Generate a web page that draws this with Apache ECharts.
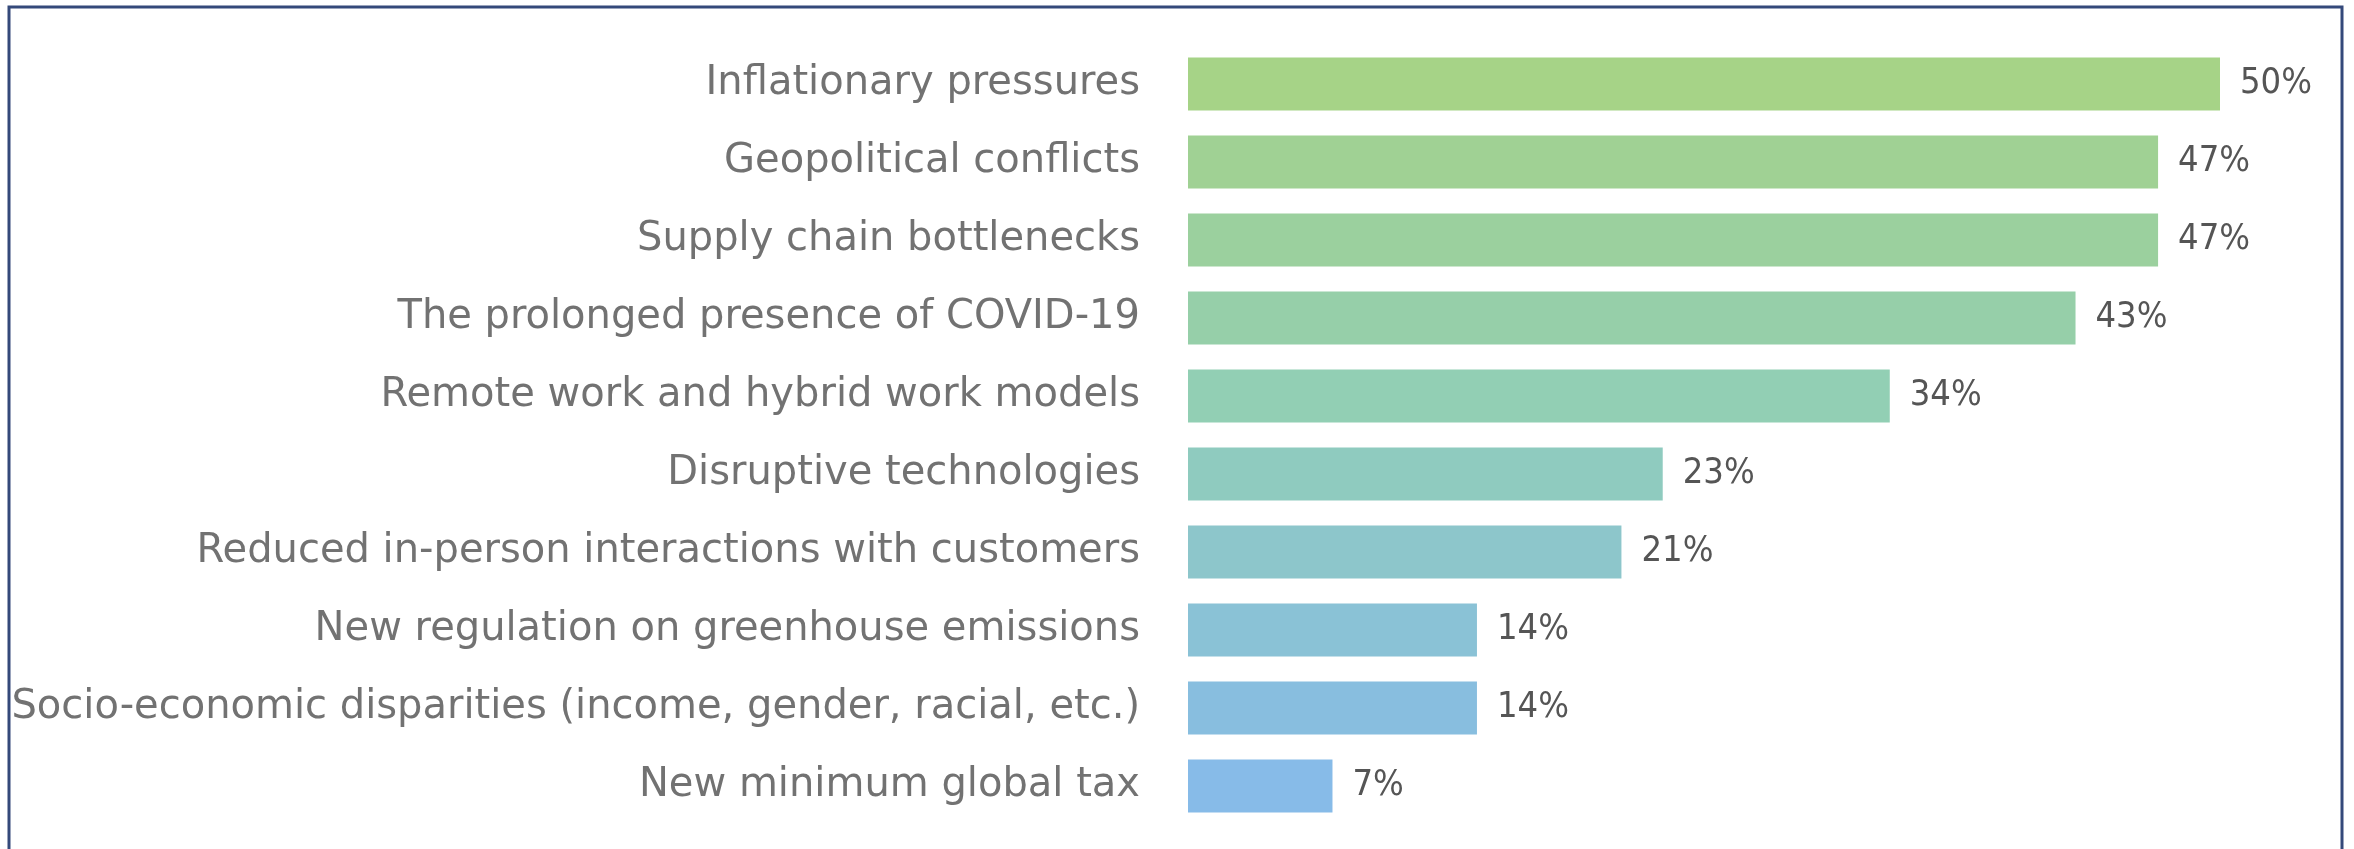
<!DOCTYPE html>
<html>
<head>
<meta charset="utf-8">
<script src="https://cdn.jsdelivr.net/npm/echarts@6/dist/echarts.min.js"></script>
<style>
  html, body { margin: 0; padding: 0; background: #ffffff; }
  #chart { width: 2354px; height: 849px; }
</style>
</head>
<body>
<div id="chart"></div>
<script>
// Business factors and the share of respondents citing each one
const categories = [
  'Inflationary pressures',
  'Geopolitical conflicts',
  'Supply chain bottlenecks',
  'The prolonged presence of COVID-19',
  'Remote work and hybrid work models',
  'Disruptive technologies',
  'Reduced in-person interactions with customers',
  'New regulation on greenhouse emissions',
  'Socio-economic disparities (income, gender, racial, etc.)',
  'New minimum global tax'
];
const shares = [50, 47, 47, 43, 34, 23, 21, 14, 14, 7];

// Green-to-blue ramp, one shade per row
const barColors = [
  '#a6d387', '#a0d194', '#9bd09e', '#96cfa9', '#92cfb4',
  '#8fcbbf', '#8dc6cb', '#8ac2d6', '#88bedf', '#87bbe8'
];

const chart = echarts.init(document.getElementById('chart'), null, { renderer: 'canvas' });

chart.setOption({
  backgroundColor: '#ffffff',
  animation: false,
  graphic: [{
    type: 'rect',
    silent: true,
    shape: { x: 9, y: 7, width: 2333, height: 880 },
    style: { fill: 'none', stroke: '#34497a', lineWidth: 3 }
  }],
  grid: { left: 1188, top: 45, width: 1032, height: 780, containLabel: false },
  xAxis: {
    type: 'value',
    min: 0,
    max: 50,
    show: false
  },
  yAxis: {
    type: 'category',
    data: categories,
    inverse: true,
    axisLine: { show: false },
    axisTick: { show: false },
    splitLine: { show: false },
    axisLabel: {
      margin: 48,
      color: '#727272',
      fontFamily: 'DejaVu Sans',
      fontSize: 40
    }
  },
  series: [{
    type: 'bar',
    data: shares.map((v, i) => ({ value: v, itemStyle: { color: barColors[i] } })),
    barWidth: 53,
    label: {
      show: true,
      position: 'right',
      distance: 20,
      formatter: '{c}%',
      color: '#555555',
      fontFamily: "'Liberation Sans Narrow', 'DejaVu Sans Condensed', 'Liberation Sans', sans-serif",
      fontSize: 36
    }
  }]
});
</script>
</body>
</html>
